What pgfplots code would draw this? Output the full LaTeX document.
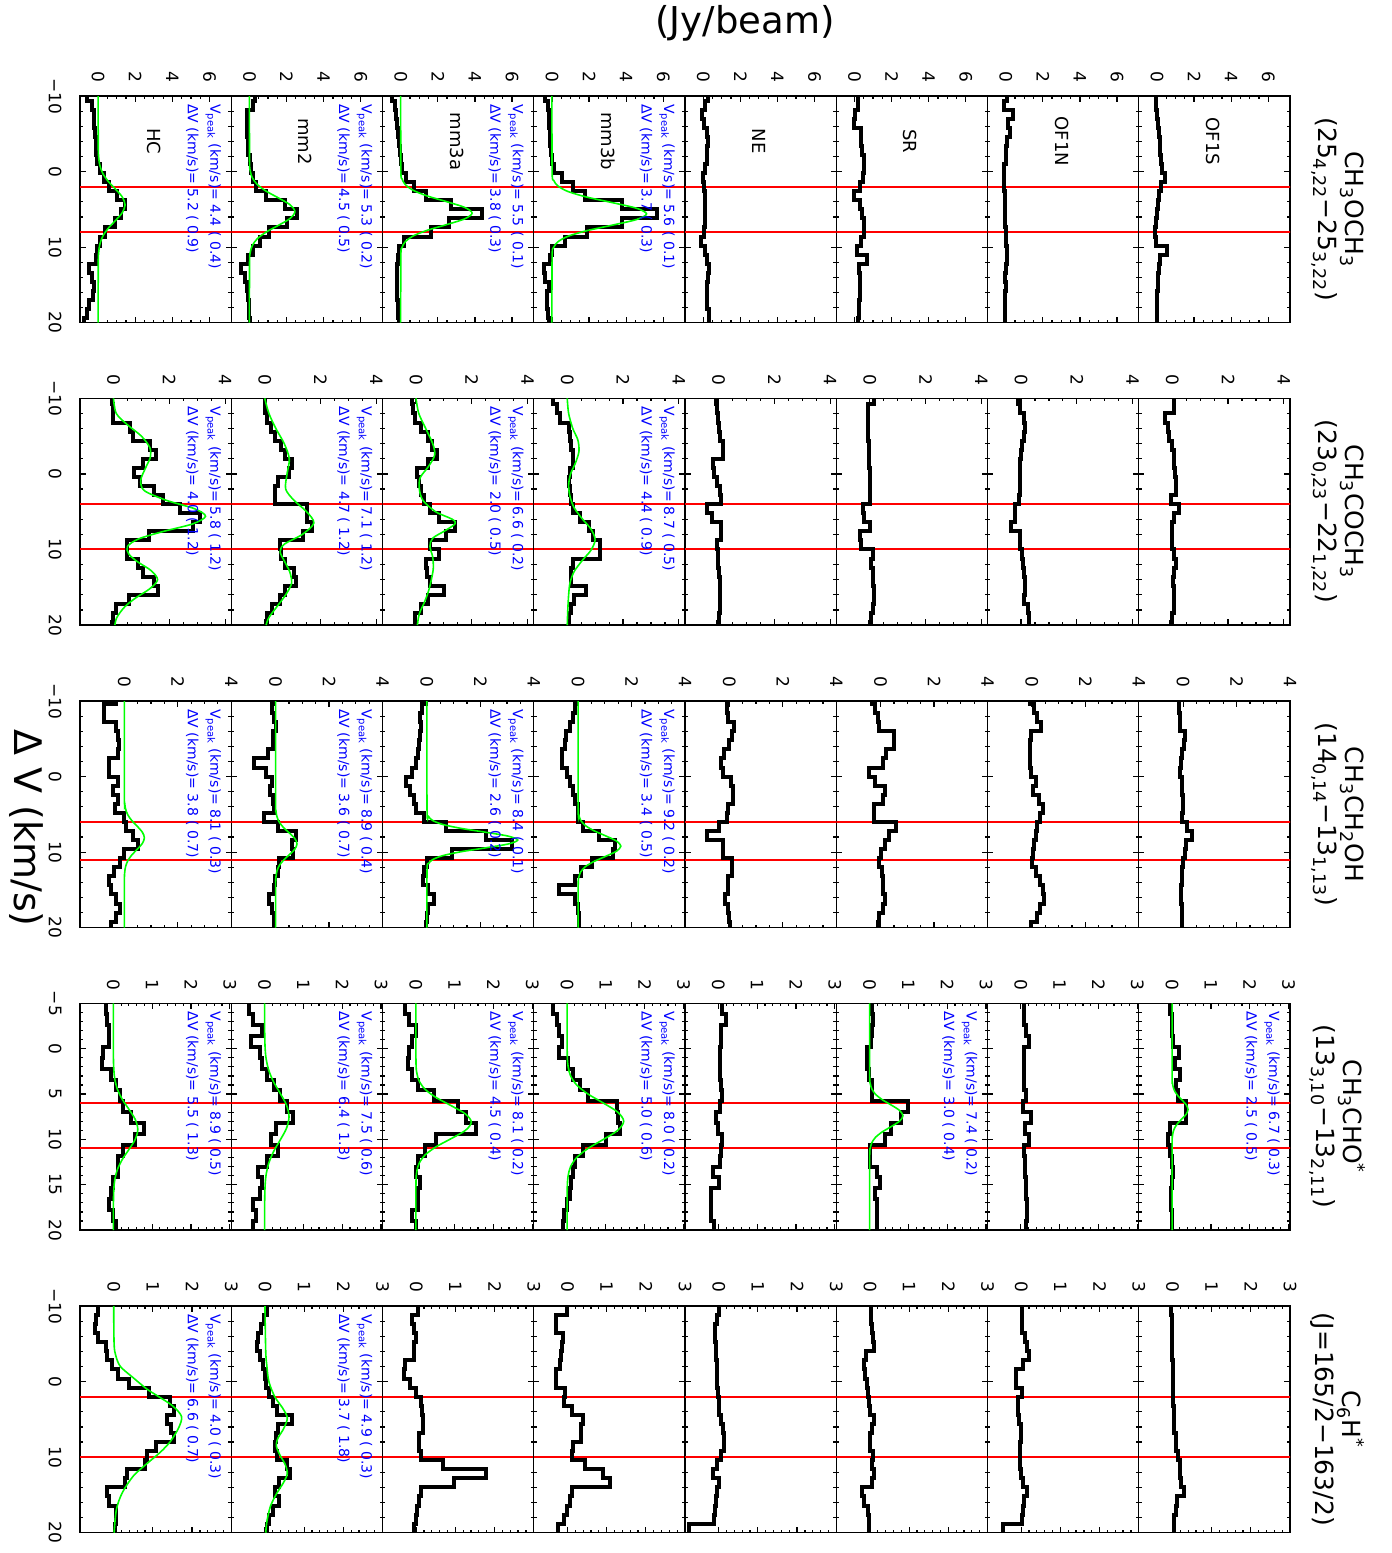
\documentclass[border=0pt]{standalone}
\usepackage{fontspec}
\setmainfont{DejaVu Sans}
\usepackage{pgfplots}
\usepackage{pgfplotstable}
\pgfplotsset{compat=1.18}
\newcommand{\sub}[1]{\textsubscript{#1}}

% CH3OCH3
\pgfplotstableread{
v HC mm2 mm3a mm3b NE SR OF1N OF1S
-10 -0.6 0.29 -0.45 -0.36 0.25 0.2 0.05 -0.05
-9.4 -0.6 0.29 -0.45 -0.36 0.25 0.2 0.05 -0.05
-8.2 -0.36 0.17 -0.3 -0.23 0.12 0.2 -0.1 -0.05
-7.0 -0.24 -0.14 -0.23 -0.18 -0.08 0.05 0.4 0.0
-5.8 -0.22 -0.14 -0.18 -0.15 0.05 0.0 0.1 0.05
-4.6 -0.19 -0.12 -0.13 -0.12 0.18 0.38 0.25 0.1
-3.4 -0.12 -0.1 -0.09 -0.08 0.25 0.38 0.05 0.15
-2.2 -0.12 -0.07 -0.05 -0.05 0.22 0.4 0.02 0.18
-1.0 -0.05 0.02 0.0 0.0 0.2 0.5 0.0 0.22
0.2 0.08 0.08 0.09 0.09 0.1 0.5 -0.08 0.25
1.4 0.3 0.2 0.3 0.54 0.0 0.45 -0.1 0.45
2.6 0.6 0.35 0.72 1.16 0.05 0.3 -0.1 0.2
3.8 1.0 0.9 1.34 1.79 0.12 -0.05 -0.05 0.1
5.0 1.44 1.9 2.69 3.76 0.12 0.3 -0.05 0.05
6.2 1.25 2.55 4.39 5.65 0.12 0.4 -0.05 0.0
7.4 0.9 2.0 2.6 3.76 0.12 0.5 -0.05 -0.05
8.6 0.35 1.05 1.61 1.88 0.05 0.5 0.0 -0.08
9.8 0.12 0.55 0.18 0.72 -0.12 0.38 0.0 -0.05
11.0 -0.05 0.17 -0.09 0.0 0.12 0.12 0.05 0.55
12.2 -0.12 -0.07 -0.15 -0.1 0.2 0.7 0.05 0.15
13.4 -0.48 -0.43 -0.18 -0.45 0.32 0.25 0.0 0.1
14.6 -0.36 -0.24 -0.22 -0.4 0.25 0.3 -0.05 0.05
15.8 -0.2 -0.12 -0.2 -0.18 0.2 0.3 0.0 0.05
17.0 -0.3 -0.07 -0.18 -0.25 0.18 0.28 -0.05 0.0
18.2 -0.48 -0.05 -0.15 -0.27 0.22 0.25 -0.05 0.0
19.4 -0.6 0.0 -0.12 -0.2 0.3 0.25 -0.05 0.0
20 -0.77 0.05 -0.1 -0.18 0.3 0.2 -0.05 0.0
}\tabA

% CH3COCH3
\pgfplotstableread{
v HC mm2 mm3a mm3b NE SR OF1N OF1S
-10 -0.05 0.0 -0.13 -0.5 -0.08 0.15 -0.1 0.05
-9.2 -0.05 0.0 -0.13 -0.5 -0.08 0.15 -0.1 0.05
-8.0 0.0 0.0 -0.1 -0.35 -0.05 -0.08 -0.05 0.05
-6.8 0.0 0.08 -0.05 -0.27 0.0 -0.08 0.1 -0.25
-5.6 0.6 0.24 0.19 0.05 0.02 -0.06 0.13 -0.15
-4.4 0.7 0.35 0.43 0.1 0.05 -0.05 0.12 -0.1
-3.2 1.3 0.6 0.59 0.15 0.16 -0.04 0.05 0.0
-2.0 1.52 0.72 0.75 0.2 0.16 -0.03 0.0 0.05
-0.8 1.04 0.96 0.43 0.2 -0.2 -0.02 -0.03 0.08
0.4 0.72 0.88 0.03 0.1 -0.15 0.0 -0.05 0.1
1.6 0.96 0.48 0.11 0.05 -0.05 0.0 -0.05 0.12
2.8 1.44 0.37 0.18 0.1 0.05 0.0 -0.05 0.12
4.0 1.76 0.37 0.27 0.13 0.08 0.0 -0.07 -0.05
5.2 2.4 1.52 0.51 0.2 -0.4 -0.25 -0.2 0.25
6.4 3.1 1.52 0.83 0.45 -0.25 -0.2 -0.2 0.05
7.6 2.85 1.68 1.39 0.77 0.08 0.0 -0.36 0.0
8.8 1.28 1.36 1.07 0.93 0.1 -0.35 -0.05 0.0
10.0 0.48 0.56 0.51 1.17 -0.05 -0.33 -0.05 0.0
11.2 0.5 0.6 0.83 1.17 -0.02 0.1 0.05 0.05
12.4 0.88 0.72 0.35 0.2 0.0 0.05 0.08 0.12
13.6 1.04 1.04 0.4 0.13 0.02 0.1 0.12 0.08
14.8 1.44 1.12 0.51 0.15 0.05 0.12 0.15 0.02
16.0 1.6 0.72 0.99 0.69 0.05 0.15 0.15 0.05
17.2 0.55 0.56 0.43 0.25 0.05 0.15 0.12 0.05
18.4 0.1 0.27 0.19 0.13 0.05 0.1 0.25 0.08
19.6 0.0 0.08 -0.05 0.08 0.02 0.05 0.3 0.0
20 -0.05 0.05 -0.05 0.05 0.0 0.0 0.3 -0.05
}\tabB

% CH3CH2OH
\pgfplotstableread{
v HC mm2 mm3a mm3b NE SR OF1N OF1S
-10 -0.33 -0.08 -0.05 -0.05 -0.08 -0.33 -0.08 -0.17
-9.6 -0.33 -0.08 -0.05 -0.05 -0.08 -0.33 -0.08 -0.17
-8.4 -0.75 -0.12 -0.2 -0.1 -0.08 -0.2 0.08 -0.17
-7.2 -0.75 -0.05 -0.25 -0.2 -0.05 -0.1 0.2 -0.12
-6.0 -0.33 0.0 -0.22 -0.3 0.17 -0.05 0.33 -0.12
-4.8 -0.25 -0.08 -0.25 -0.45 0.1 0.5 -0.05 0.08
-3.6 -0.2 -0.1 -0.3 -0.5 0.0 0.5 -0.08 0.05
-2.4 -0.25 -0.3 -0.35 -0.6 -0.2 0.2 -0.08 -0.05
-1.2 -0.58 -0.8 -0.4 -0.6 -0.3 0.1 -0.08 -0.08
0 -0.58 -0.35 -0.55 -0.4 -0.25 -0.42 -0.05 -0.1
1.2 -0.25 -0.15 -0.77 -0.3 0.05 -0.2 0.17 -0.05
2.4 -0.42 -0.2 -0.63 -0.2 0.12 0.15 0.05 -0.05
3.6 -0.25 -0.1 -0.47 -0.1 0.15 0.08 0.25 0.0
4.8 -0.35 -0.05 -0.4 0.0 -0.05 -0.25 0.42 0.0
6.0 0.0 -0.42 -0.1 0.0 -0.1 -0.25 0.3 -0.03
7.2 0.08 0.08 0.7 0.2 -0.4 0.58 0.2 0.15
8.4 0.33 0.75 2.2 0.78 -0.83 0.33 0.15 0.33
9.6 0.5 0.6 3.2 1.37 -0.25 0.15 0.08 0.1
10.8 0.0 0.65 0.95 1.3 -0.25 0.0 0.05 0.08
12.0 -0.17 0.13 0.0 0.53 0.08 -0.05 0.0 0.0
13.2 -0.37 0.08 -0.1 0.12 0.08 0.05 0.15 -0.03
14.4 -0.58 -0.03 -0.15 -0.1 -0.05 0.08 0.3 -0.05
15.6 -0.5 -0.05 0.05 -0.72 -0.05 0.08 0.42 -0.08
16.8 -0.33 -0.25 0.28 -0.1 -0.15 0.15 0.47 -0.08
18.0 -0.17 -0.13 0.05 0.0 -0.05 0.1 0.3 -0.05
19.2 -0.3 -0.05 0.0 0.03 0.0 -0.05 0.2 -0.03
20 -0.5 -0.05 -0.05 0.03 0.03 -0.08 -0.03 -0.03
}\tabC

% CH3CHO
\pgfplotstableread{
v HC mm2 mm3a mm3b NE SR OF1N OF1S
-5 -0.2 -0.4 -0.29 -0.37 0.1 0.05 0.08 -0.05
-3.8 -0.2 -0.4 -0.29 -0.37 0.1 0.05 0.08 -0.05
-2.6 -0.17 -0.29 -0.17 -0.25 0.2 0.1 0.08 0.0
-1.4 -0.12 -0.06 0.0 -0.2 0.08 0.05 0.12 0.0
-0.2 -0.12 -0.34 -0.1 -0.12 0.06 0.03 0.2 0.02
1.0 -0.26 -0.12 -0.17 -0.2 0.05 -0.08 0.08 0.18
2.2 -0.29 -0.06 -0.2 0.03 0.04 -0.08 0.08 0.08
3.4 -0.06 0.06 -0.1 0.15 0.04 -0.02 0.07 0.2
4.6 0.06 0.23 0.06 0.32 0.06 0.05 0.08 0.1
5.8 0.17 0.4 0.46 0.55 0.1 0.07 0.12 0.15
7.0 0.26 0.57 1.09 1.29 0.05 0.98 0.05 0.35
8.2 0.46 0.74 1.3 1.3 -0.05 0.8 0.25 0.35
9.4 0.8 0.29 1.54 1.37 0.0 0.56 0.1 -0.06
10.6 0.57 0.17 0.51 1.0 0.1 0.39 0.22 -0.1
11.8 0.25 0.34 0.23 0.4 0.08 0.0 0.08 -0.05
13.0 0.11 0.06 0.06 0.2 0.05 0.02 0.1 0.0
14.2 0.11 -0.17 0.0 0.15 -0.15 0.2 0.1 0.03
15.4 0.0 -0.06 0.11 0.1 0.02 0.27 0.12 0.0
16.6 -0.06 -0.11 0.06 0.07 -0.2 0.15 0.12 -0.02
17.8 -0.11 -0.29 0.06 0.0 -0.2 0.2 0.15 -0.02
19.0 0.0 -0.23 -0.11 -0.08 -0.18 0.2 0.15 0.0
20 0.06 -0.29 0.0 -0.1 -0.12 0.2 0.12 0.0
}\tabD

% C6H
\pgfplotstableread{
v HC mm2 mm3a mm3b NE SR OF1N OF1S
-10 -0.4 0.05 0.05 0.0 0.0 0.02 0.03 -0.05
-8.8 -0.4 0.05 0.05 0.0 0.0 0.02 0.03 -0.05
-7.6 -0.46 -0.02 -0.11 -0.29 -0.05 0.02 0.03 0.0
-6.4 -0.49 -0.1 -0.06 -0.29 -0.1 0.05 0.03 0.0
-5.2 -0.4 -0.17 0.0 -0.12 -0.1 0.08 0.1 0.0
-4.0 -0.2 -0.2 -0.06 -0.15 -0.08 0.1 0.15 0.0
-2.8 -0.17 -0.12 -0.06 -0.17 -0.06 -0.1 0.2 0.0
-1.6 -0.05 -0.05 -0.29 -0.2 -0.05 -0.14 0.05 0.02
-0.4 0.11 0.0 -0.3 -0.29 -0.05 -0.12 -0.14 0.02
0.8 0.4 0.02 -0.17 -0.29 -0.04 -0.08 -0.14 0.02
2.0 0.91 0.1 0.0 -0.05 -0.02 -0.05 0.02 0.02
3.2 1.43 0.2 0.11 -0.1 0.0 -0.02 -0.08 0.02
4.4 1.54 0.31 0.14 0.11 0.02 0.0 -0.08 0.03
5.6 1.35 0.69 0.17 0.4 0.05 0.1 -0.05 0.05
6.8 1.45 0.34 0.17 0.35 0.1 0.05 0.0 0.05
8.0 1.54 0.28 0.06 0.35 0.14 0.0 0.0 0.08
9.2 1.09 0.25 0.06 0.15 0.14 0.0 -0.02 0.1
10.4 0.86 0.3 0.11 0.11 0.05 0.08 -0.02 0.15
11.6 0.8 0.55 0.69 0.46 -0.05 0.05 -0.02 0.18
12.8 0.35 0.65 1.77 0.91 -0.15 0.1 0.0 0.2
14.0 0.29 0.35 0.97 1.09 0.02 0.05 0.05 0.22
15.2 -0.17 0.25 0.11 0.12 -0.05 -0.2 0.15 0.3
16.4 -0.11 0.35 0.06 0.06 -0.08 -0.15 0.08 0.12
17.6 0.05 0.2 0.03 0.0 -0.1 -0.05 0.05 0.08
18.8 0.06 0.1 0.0 -0.1 -0.12 -0.02 0.03 0.05
20 0.03 0.05 -0.05 -0.25 -0.75 -0.02 -0.46 0.05
}\tabE

\pgfplotsset{
  panel/.style={
    scale only axis, width=75.625pt, height=113.35pt, anchor=north west,
    y dir=reverse, clip=true,
    /pgf/number format/assume math mode=true,
    axis line style={line width=0.6pt},
    tick style={line width=0.6pt, black},
    tick align=inside,
    major tick length=2.8pt, minor tick length=1.4pt,
    xtick pos=both, ytick pos=both,
    xticklabel pos=upper,
    tick label style={font=\fontsize{8.5}{10}\selectfont, inner sep=0pt},
    xticklabel style={yshift=6.5pt, rotate=-90, anchor=east},
    yticklabel style={xshift=-9pt, rotate=-90, anchor=north},
    yticklabel=\empty,
  },
  r1/.style={xmin=-0.98, xmax=7.17, xtick={0,2,4,6}, minor x tick num=3,
    ymin=-10, ymax=20, ytick={-10,0,10,20}, minor y tick num=4},
  r2/.style={xmin=-1.2, xmax=4.22, xtick={0,2,4}, minor x tick num=3,
    ymin=-10, ymax=20, ytick={-10,0,10,20}, minor y tick num=4},
  r3/.style={xmin=-1.66, xmax=4.0, xtick={0,2,4}, minor x tick num=3,
    ymin=-10, ymax=20, ytick={-10,0,10,20}, minor y tick num=4},
  r4/.style={xmin=-0.86, xmax=3.04, xtick={0,1,2,3}, minor x tick num=4,
    ymin=-5, ymax=20, ytick={-5,0,5,10,15,20}, minor y tick num=4},
  r5/.style={xmin=-0.86, xmax=3.0, xtick={0,1,2,3}, minor x tick num=4,
    ymin=-10, ymax=20, ytick={-10,0,10,20}, minor y tick num=4},
  vl/.style={yticklabels={−10,0,10,20}},
  vlb/.style={yticklabels={−5,0,5,10,15,20}},
  specline/.style={black, line width=2pt, const plot, mark=none},
  redline/.style={color=red, line width=1pt, mark=none},
  fitline/.style={green, line width=0.8pt, smooth, mark=none},
}
\tikzset{
  bluetxt/.style={rotate=-90, anchor=north west, align=left, inner sep=0pt, text=blue, font=\fontsize{7}{11.3}\selectfont},
  srcname/.style={rotate=-90, anchor=center, inner sep=0pt, font=\fontsize{9}{10}\selectfont},
  titletxt/.style={rotate=-90, align=center, inner sep=0pt, font=\fontsize{12.5}{13.5}\selectfont},
}
\newcommand{\fitinfo}[4]{\node[bluetxt] at (axis description cs:0.935,0.965) {V\textsubscript{peak} (km/s)= #1 ( #2)\\ΔV (km/s)= #3 ( #4)};}
\newcommand{\src}[1]{\node[srcname] at (axis description cs:0.49,0.8) {#1};}
\newcommand{\panel}[8]{%
\begin{axis}[panel,#3,at={(#1pt,-#2pt)}]
\addplot[redline] coordinates {(-5,#6) (10,#6)};
\addplot[redline] coordinates {(-5,#7) (10,#7)};
\addplot[specline] table[x=#5,y=v]{#4};
#8
\end{axis}}

\begin{document}
\begin{tikzpicture}
\useasboundingbox (0,0) rectangle (696pt,-776.5pt);

% ---------- Row 1: CH3OCH3 ----------
\panel{40}{48}{r1,vl}{\tabA}{HC}{2}{8}{\addplot[fitline] coordinates {(0,-10) (0.003,-3.4) (0.027,-1.84) (0.091,-0.8) (0.247,0.24) (0.535,1.28) (0.931,2.32) (1.298,3.36) (1.45,4.4) (1.298,5.44) (0.931,6.48) (0.535,7.52) (0.247,8.56) (0.091,9.6) (0.027,10.64) (0.003,12.2) (0,20)}; \fitinfo{4.4}{0.4}{5.2}{0.9}\src{HC}}
\panel{115.625}{48}{r1}{\tabA}{mm2}{2}{8}{\addplot[fitline] coordinates {(0,-10) (0.005,-1.45) (0.045,-0.1) (0.153,0.8) (0.417,1.7) (0.904,2.6) (1.573,3.5) (2.193,4.4) (2.45,5.3) (2.193,6.2) (1.573,7.1) (0.904,8.0) (0.417,8.9) (0.153,9.8) (0.045,10.7) (0.005,12.05) (0,20)}; \fitinfo{5.3}{0.2}{4.5}{0.5}\src{mm2}}
\panel{191.25}{48}{r1}{\tabA}{mm3a}{2}{8}{\addplot[fitline] coordinates {(0,-10) (0.008,-0.2) (0.071,0.94) (0.241,1.7) (0.655,2.46) (1.421,3.22) (2.472,3.98) (3.446,4.74) (3.85,5.5) (3.446,6.26) (2.472,7.02) (1.421,7.78) (0.655,8.54) (0.241,9.3) (0.071,10.06) (0.008,11.2) (0,20)}; \fitinfo{5.5}{0.1}{3.8}{0.3}\src{mm3a}}
\panel{266.875}{48}{r1}{\tabA}{mm3b}{2}{8}{\addplot[fitline] coordinates {(0,-10) (0.01,0.05) (0.094,1.16) (0.319,1.9) (0.867,2.64) (1.882,3.38) (3.274,4.12) (4.565,4.86) (5.1,5.6) (4.565,6.34) (3.274,7.08) (1.882,7.82) (0.867,8.56) (0.319,9.3) (0.094,10.04) (0.01,11.15) (0,20)}; \fitinfo{5.6}{0.1}{3.7}{0.3}\src{mm3b}}
\panel{342.5}{48}{r1}{\tabA}{NE}{2}{8}{\src{NE}}
\panel{418.125}{48}{r1}{\tabA}{SR}{2}{8}{\src{SR}}
\panel{493.75}{48}{r1}{\tabA}{OF1N}{2}{8}{\src{OF1N}}
\panel{569.375}{48}{r1}{\tabA}{OF1S}{2}{8}{\src{OF1S}}

% ---------- Row 2: CH3COCH3 ----------
\panel{40}{199.17}{r2,vl}{\tabB}{HC}{4}{10}{\addplot[fitline] coordinates {(0,-10) (0.1,-8) (0.5,-6.5) (1.0,-5) (1.3,-3.5) (1.32,-2.2) (1.15,-0.8) (0.98,0.8) (1.1,2.2) (1.9,3.5) (2.9,4.6) (3.3,5.6) (2.85,6.6) (1.8,7.6) (0.9,8.6) (0.5,9.6) (0.55,10.6) (0.85,11.6) (1.35,12.8) (1.58,14.0) (1.3,15.2) (0.8,16.4) (0.4,17.6) (0.12,19) (0.05,20)}; \fitinfo{5.8}{1.2}{4.0}{1.2}}
\panel{115.625}{199.17}{r2}{\tabB}{mm2}{4}{10}{\addplot[fitline] coordinates {(0,-10) (0.15,-8) (0.4,-6) (0.7,-4) (0.88,-2) (0.8,0) (0.75,2) (1.05,3.5) (1.5,5) (1.76,6.5) (1.35,8) (0.7,9.3) (0.55,10.3) (0.7,11.5) (0.9,13) (0.96,14.5) (0.75,16) (0.45,17.5) (0.15,19) (0.05,20)}; \fitinfo{7.1}{1.2}{4.7}{1.2}}
\panel{191.25}{199.17}{r2}{\tabB}{mm3a}{4}{10}{\addplot[fitline] coordinates {(0,-10) (0.1,-8) (0.35,-6) (0.6,-4) (0.67,-2.5) (0.45,-1) (0.15,0.5) (0.12,2) (0.25,3.5) (0.7,5) (1.3,6) (1.4,6.6) (1.05,7.5) (0.6,8.5) (0.5,9.6) (0.6,11) (0.62,12.5) (0.55,14) (0.45,15.5) (0.3,17) (0.12,18.5) (0.05,20)}; \fitinfo{6.6}{0.2}{2.0}{0.5}}
\panel{266.875}{199.17}{r2}{\tabB}{mm3b}{4}{10}{\addplot[fitline] coordinates {(0,-10) (0.05,-8) (0.2,-6) (0.38,-4.5) (0.42,-3) (0.3,-1.5) (0.12,0) (0.05,1.5) (0.1,3) (0.25,4.5) (0.55,6) (0.85,7.3) (1.0,8.7) (0.85,10.1) (0.55,11.4) (0.25,12.9) (0.1,14.4) (0.05,16) (0.02,18) (0,20)}; \fitinfo{8.7}{0.5}{4.4}{0.9}}
\panel{342.5}{199.17}{r2}{\tabB}{NE}{4}{10}{}
\panel{418.125}{199.17}{r2}{\tabB}{SR}{4}{10}{}
\panel{493.75}{199.17}{r2}{\tabB}{OF1N}{4}{10}{}
\panel{569.375}{199.17}{r2}{\tabB}{OF1S}{4}{10}{}

% ---------- Row 3: CH3CH2OH ----------
\panel{40}{350.5}{r3,vl}{\tabC}{HC}{6}{11}{\addplot[fitline] coordinates {(0,-10) (0.0015,2.4) (0.014,3.54) (0.047,4.3) (0.128,5.06) (0.277,5.82) (0.482,6.58) (0.671,7.34) (0.75,8.1) (0.671,8.86) (0.482,9.62) (0.277,10.38) (0.128,11.14) (0.047,11.9) (0.014,12.66) (0.0015,13.8) (0,20)}; \fitinfo{8.1}{0.3}{3.8}{0.7}}
\panel{115.625}{350.5}{r3}{\tabC}{mm2}{6}{11}{\addplot[fitline] coordinates {(0,-10) (0.0016,3.5) (0.015,4.58) (0.05,5.3) (0.136,6.02) (0.295,6.74) (0.514,7.46) (0.716,8.18) (0.8,8.9) (0.716,9.62) (0.514,10.34) (0.295,11.06) (0.136,11.78) (0.05,12.5) (0.015,13.22) (0.0016,14.3) (0,20)}; \fitinfo{8.9}{0.4}{3.6}{0.7}}
\panel{191.25}{350.5}{r3}{\tabC}{mm3a}{6}{11}{\addplot[fitline] coordinates {(0,-10) (0.007,4.5) (0.063,5.28) (0.2125,5.8) (0.578,6.32) (1.255,6.84) (2.183,7.36) (3.043,7.88) (3.4,8.4) (3.043,8.92) (2.183,9.44) (1.255,9.96) (0.578,10.48) (0.2125,11.0) (0.063,11.52) (0.007,12.3) (0,20)}; \fitinfo{8.4}{0.1}{2.6}{0.2}}
\panel{266.875}{350.5}{r3}{\tabC}{mm3b}{6}{11}{\addplot[fitline] coordinates {(0,-10) (0.003,4.1) (0.03,5.12) (0.1,5.8) (0.272,6.48) (0.59,7.16) (1.027,7.84) (1.432,8.52) (1.6,9.2) (1.432,9.88) (1.027,10.56) (0.59,11.24) (0.272,11.92) (0.1,12.6) (0.03,13.28) (0.003,14.3) (0,20)}; \fitinfo{9.2}{0.2}{3.4}{0.5}}
\panel{342.5}{350.5}{r3}{\tabC}{NE}{6}{11}{}
\panel{418.125}{350.5}{r3}{\tabC}{SR}{6}{11}{}
\panel{493.75}{350.5}{r3}{\tabC}{OF1N}{6}{11}{}
\panel{569.375}{350.5}{r3}{\tabC}{OF1S}{6}{11}{}

% ---------- Row 4: CH3CHO ----------
\panel{40}{501.67}{r4,vlb}{\tabD}{HC}{6}{11}{\addplot[fitline] coordinates {(0,-5) (0.0013,0.65) (0.012,2.3) (0.039,3.4) (0.107,4.5) (0.232,5.6) (0.404,6.7) (0.564,7.8) (0.63,8.9) (0.564,10.0) (0.404,11.1) (0.232,12.2) (0.107,13.3) (0.039,14.4) (0.012,15.5) (0.0013,17.15) (0,20)}; \fitinfo{8.9}{0.5}{5.5}{1.3}}
\panel{115.625}{501.67}{r4}{\tabD}{mm2}{6}{11}{\addplot[fitline] coordinates {(0,-5) (0.0013,-2.1) (0.012,-0.18) (0.039,1.1) (0.107,2.38) (0.232,3.66) (0.404,4.94) (0.564,6.22) (0.63,7.5) (0.564,8.78) (0.404,10.06) (0.232,11.34) (0.107,12.62) (0.039,13.9) (0.012,15.18) (0.0013,17.1) (0,20)}; \fitinfo{7.5}{0.6}{6.4}{1.3}}
\panel{191.25}{501.67}{r4}{\tabD}{mm3a}{6}{11}{\addplot[fitline] coordinates {(0,-5) (0.003,1.35) (0.026,2.7) (0.089,3.6) (0.243,4.5) (0.528,5.4) (0.918,6.3) (1.28,7.2) (1.43,8.1) (1.28,9.0) (0.918,9.9) (0.528,10.8) (0.243,11.7) (0.089,12.6) (0.026,13.5) (0.003,14.85) (0,20)}; \fitinfo{8.1}{0.2}{4.5}{0.4}}
\panel{266.875}{501.67}{r4}{\tabD}{mm3b}{6}{11}{\addplot[fitline] coordinates {(0,-5) (0.003,0.5) (0.027,2.0) (0.091,3.0) (0.248,4.0) (0.539,5.0) (0.937,6.0) (1.307,7.0) (1.46,8.0) (1.307,9.0) (0.937,10.0) (0.539,11.0) (0.248,12.0) (0.091,13.0) (0.027,14.0) (0.003,15.5) (0,20)}; \fitinfo{8.0}{0.2}{5.0}{0.6}}
\panel{342.5}{501.67}{r4}{\tabD}{NE}{6}{11}{}
\panel{418.125}{501.67}{r4}{\tabD}{SR}{6}{11}{\addplot[fitline] coordinates {(0,-5) (0.0017,2.9) (0.016,3.8) (0.054,4.4) (0.146,5.0) (0.317,5.6) (0.552,6.2) (0.77,6.8) (0.86,7.4) (0.77,8.0) (0.552,8.6) (0.317,9.2) (0.146,9.8) (0.054,10.4) (0.016,11.0) (0.0017,11.9) (0,20)}; \fitinfo{7.4}{0.2}{3.0}{0.4}}
\panel{493.75}{501.67}{r4}{\tabD}{OF1N}{6}{11}{}
\panel{569.375}{501.67}{r4}{\tabD}{OF1S}{6}{11}{\addplot[fitline] coordinates {(0,-5) (0.0008,2.95) (0.0076,3.7) (0.026,4.2) (0.07,4.7) (0.151,5.2) (0.263,5.7) (0.367,6.2) (0.41,6.7) (0.367,7.2) (0.263,7.7) (0.151,8.2) (0.07,8.7) (0.026,9.2) (0.0076,9.7) (0.0008,10.45) (0,20)}; \fitinfo{6.7}{0.3}{2.5}{0.5}}

% ---------- Row 5: C6H ----------
\panel{40}{653}{r5,vl}{\tabE}{HC}{2}{10}{\addplot[fitline] coordinates {(0,-10) (0.01,-5) (0.05,-3.5) (0.17,-2) (0.5,-0.5) (0.85,1) (1.15,2) (1.5,3.2) (1.73,4.6) (1.66,6.1) (1.45,7.9) (1.2,9.3) (0.86,10.8) (0.5,12.5) (0.22,14.7) (0.07,16.9) (0.01,20)}; \fitinfo{4.0}{0.3}{6.6}{0.7}}
\panel{115.625}{653}{r5}{\tabE}{mm2}{2}{10}{\addplot[fitline] coordinates {(0,-10) (0.02,-4) (0.05,-2) (0.1,0) (0.25,2) (0.45,3.5) (0.57,4.8) (0.48,6.2) (0.33,7.5) (0.29,8.5) (0.38,9.7) (0.52,11) (0.57,12.2) (0.47,13.4) (0.3,14.8) (0.14,16.5) (0.05,18.5) (0.02,20)}; \fitinfo{4.9}{0.3}{3.7}{1.8}}
\panel{191.25}{653}{r5}{\tabE}{mm3a}{2}{10}{}
\panel{266.875}{653}{r5}{\tabE}{mm3b}{2}{10}{}
\panel{342.5}{653}{r5}{\tabE}{NE}{2}{10}{}
\panel{418.125}{653}{r5}{\tabE}{SR}{2}{10}{}
\panel{493.75}{653}{r5}{\tabE}{OF1N}{2}{10}{}
\panel{569.375}{653}{r5}{\tabE}{OF1S}{2}{10}{}

% ---------- Titles and axis labels ----------
\node[titletxt] at (668.75pt,-104.7pt) {CH\sub{3}OCH\sub{3}\\(25\sub{4,22}−25\sub{3,22})};
\node[titletxt] at (668.75pt,-255.8pt) {CH\sub{3}COCH\sub{3}\\(23\sub{0,23}−22\sub{1,22})};
\node[titletxt] at (668.75pt,-407.2pt) {CH\sub{3}CH\sub{2}OH\\(14\sub{0,14}−13\sub{1,13})};
\node[titletxt] at (668.75pt,-558.3pt) {CH\sub{3}CHO\textsuperscript{*}\\(13\sub{3,10}−13\sub{2,11})};
\node[titletxt] at (668.75pt,-709.7pt) {C\sub{6}H\textsuperscript{*}\\(J=165/2−163/2)};
\node[font=\fontsize{18.5}{20}\selectfont, inner sep=0pt] at (372.5pt,-11.5pt) {(Jy/beam)};
\node[rotate=-90, font=\fontsize{19}{20}\selectfont, inner sep=0pt] at (13pt,-414pt) {Δ V (km/s)};
\end{tikzpicture}
\end{document}
